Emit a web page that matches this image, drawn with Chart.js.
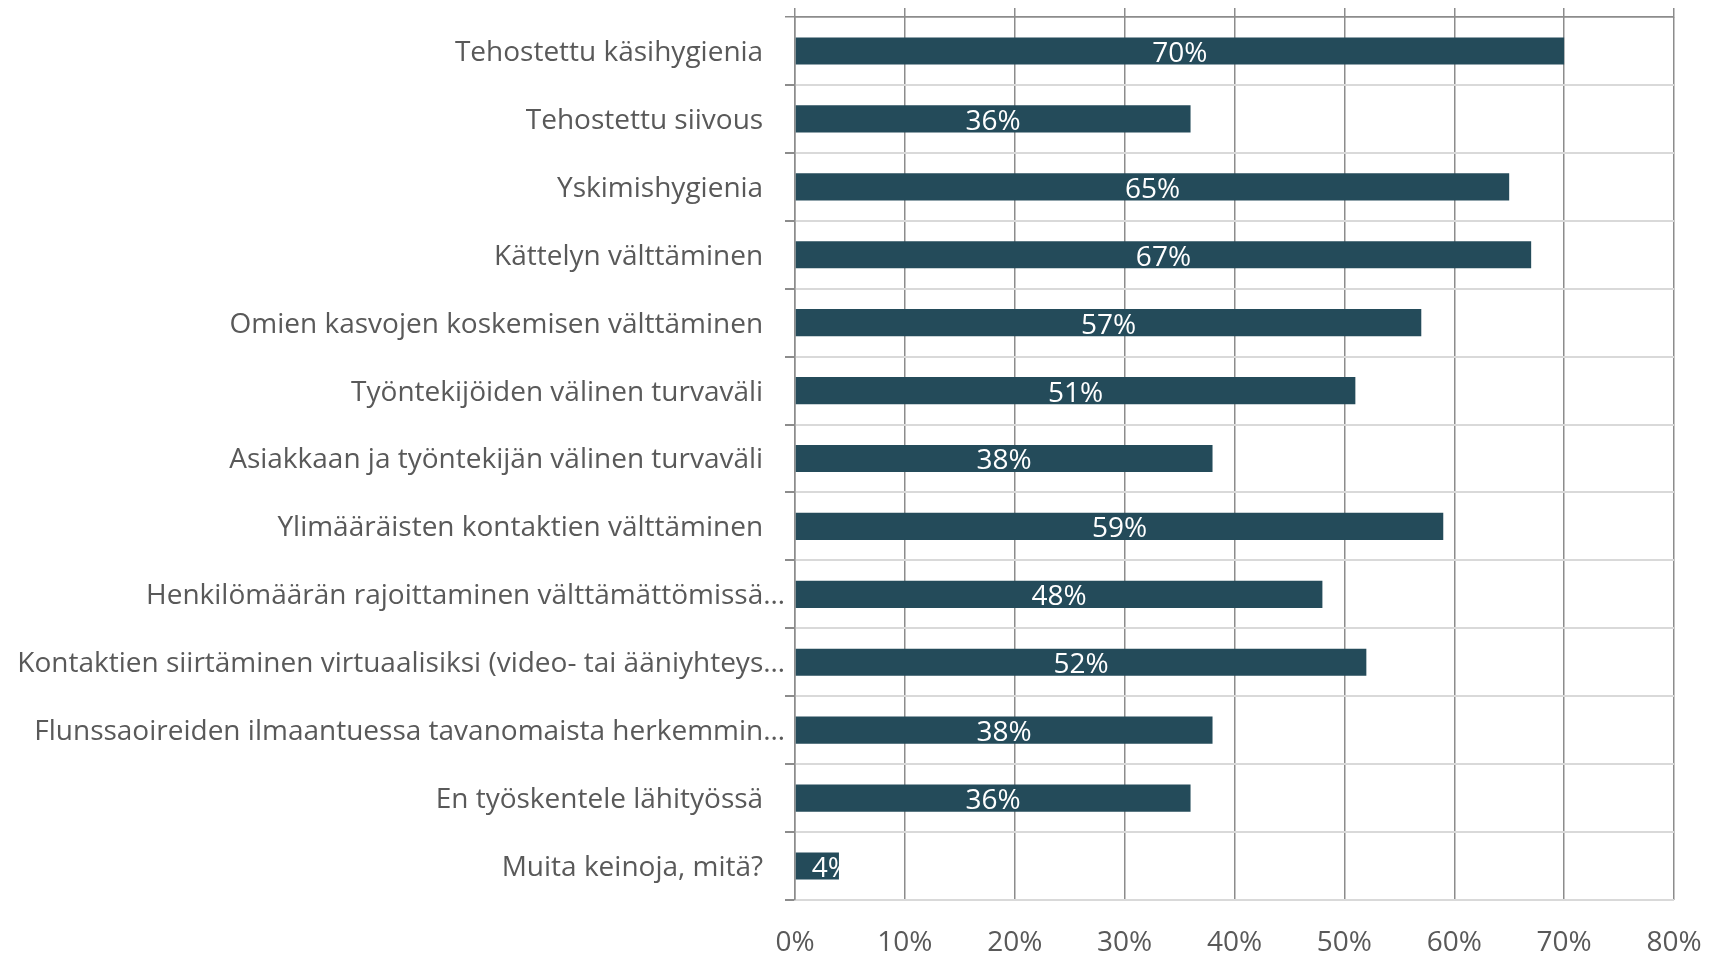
<!DOCTYPE html>
<html>
<head>
<meta charset="utf-8">
<script src="https://cdn.jsdelivr.net/npm/chart.js@4.4.0/dist/chart.umd.min.js"></script>
<style>
  html, body { margin: 0; padding: 0; background: #fff; }
  #wrap { width: 1715px; height: 955px; position: relative; }
</style>
</head>
<body>
<div id="wrap"><canvas id="chart"></canvas></div>
<script>
// Keinot (kategoriat) ja osuudet prosentteina
const categories = [
  'Tehostettu käsihygienia',
  'Tehostettu siivous',
  'Yskimishygienia',
  'Kättelyn välttäminen',
  'Omien kasvojen koskemisen välttäminen',
  'Työntekijöiden välinen turvaväli',
  'Asiakkaan ja työntekijän välinen turvaväli',
  'Ylimääräisten kontaktien välttäminen',
  'Henkilömäärän rajoittaminen välttämättömissä…',
  'Kontaktien siirtäminen virtuaalisiksi (video- tai ääniyhteys…',
  'Flunssaoireiden ilmaantuessa tavanomaista herkemmin…',
  'En työskentele lähityössä',
  'Muita keinoja, mitä?'
];
const values = [70, 36, 65, 67, 57, 51, 38, 59, 48, 52, 38, 36, 4];
const tickValues = [0, 10, 20, 30, 40, 50, 60, 70, 80];

const FONT = '"Open Sans"';
const TEXT = '#595959';
const BAR = '#244b5a';
const GRID = '#8c8c8c';

// Arvotekstit palkkien sisään (leikataan palkin reunaan kuten Excelissä)
const barLabels = {
  id: 'barLabels',
  afterDatasetsDraw(chart) {
    const ctx = chart.ctx;
    const meta = chart.getDatasetMeta(0);
    ctx.save();
    ctx.font = '28px ' + FONT;
    ctx.fillStyle = '#ffffff';
    ctx.textBaseline = 'middle';
    meta.data.forEach((bar, i) => {
      const txt = values[i] + '%';
      const left = Math.min(bar.base, bar.x);
      const right = Math.max(bar.base, bar.x);
      const w = ctx.measureText(txt).width;
      ctx.save();
      ctx.beginPath();
      ctx.rect(left, bar.y - bar.height / 2, right - left, bar.height);
      ctx.clip();
      if (w + 20 > right - left) {
        ctx.textAlign = 'left';
        ctx.fillText(txt, left + 16, bar.y + 3);
      } else {
        ctx.textAlign = 'center';
        ctx.fillText(txt, (left + right) / 2, bar.y + 3);
      }
      ctx.restore();
    });
    ctx.restore();
  }
};

new Chart(document.getElementById('chart'), {
  type: 'bar',
  data: {
    labels: categories,
    datasets: [{
      data: values,
      backgroundColor: BAR,
      borderWidth: 0,
      categoryPercentage: 0.8,
      barPercentage: 0.5
    }]
  },
  options: {
    indexAxis: 'y',
    responsive: true,
    maintainAspectRatio: false,
    animation: false,
    layout: { padding: { left: 0, right: 41, top: 0, bottom: 0 } },
    plugins: {
      legend: { display: false },
      tooltip: { enabled: false }
    },
    scales: {
      x: {
        position: 'bottom',
        min: 0,
        max: 80,
        afterBuildTicks: s => { s.ticks = tickValues.map(v => ({ value: v })); },
        afterFit: s => { s.height = 55; s.paddingLeft = 0; s.paddingRight = 0; },
        grid: { color: GRID, lineWidth: 1.5, drawTicks: false },
        border: { display: false },
        ticks: {
          padding: 26,
          color: TEXT,
          font: { family: FONT, size: 28 },
          callback: v => v + '%'
        }
      },
      x2: {
        axis: 'x',
        position: 'top',
        min: 0,
        max: 80,
        afterBuildTicks: s => { s.ticks = tickValues.map(v => ({ value: v })); },
        afterFit: s => { s.height = 17; s.paddingLeft = 0; s.paddingRight = 0; },
        grid: { drawOnChartArea: false, color: GRID, lineWidth: 1.5, tickLength: 9 },
        border: { display: true, color: GRID, width: 1.5 },
        ticks: { display: false }
      },
      y: {
        afterFit: s => { s.width = 795; s.paddingTop = 0; s.paddingBottom = 0; },
        grid: {
          offset: true,
          color: c => (c.index === 0 ? GRID : '#d9d9d9'),
          lineWidth: c => (c.index === 0 ? 1.5 : 2),
          tickColor: GRID,
          tickLength: 10
        },
        border: { color: GRID, width: 1.5 },
        ticks: {
          padding: 0,
          labelOffset: 2,
          color: TEXT,
          autoSkip: false,
          font: { family: FONT, size: 28 },
          // katkaistut tekstit ovat lähempänä akselia
          callback: (v, i) => categories[i].endsWith('…') ? categories[i] : categories[i] + '   '
        }
      }
    }
  },
  plugins: [barLabels]
});
</script>
</body>
</html>
